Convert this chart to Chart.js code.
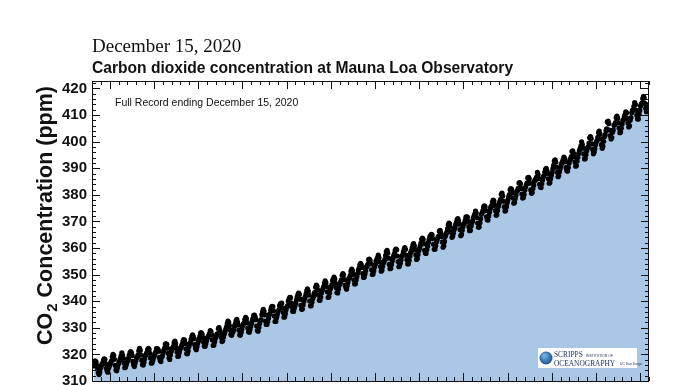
<!DOCTYPE html>
<html>
<head>
<meta charset="utf-8">
<script src="https://cdn.jsdelivr.net/npm/chart.js@4/dist/chart.umd.min.js"></script>
<style>
  body { margin: 0; background: #fff; }
  #chartBox { width: 696px; height: 385px; }
</style>
</head>
<body>
<div id="chartBox"><canvas id="chart" width="696" height="385"></canvas></div>
<script>
(function () {

    'use strict';

    // monthly mean CO2 (ppm) at Mauna Loa
    // first record is March 1958
    const co2_1950s = [315.70, 317.45, 317.51, 317.24, 315.86, 314.93, 313.20, 312.43, 313.33, 314.67,
        315.58, 316.49, 316.65, 317.72, 318.29, 318.15, 316.54, 314.80, 313.84, 313.33, 314.81, 315.58];
    const co2_1960s = [
        316.43, 316.98, 317.58, 319.03, 320.04, 319.59, 318.18, 315.90, 314.17, 313.83, 315.00, 316.19,
        316.89, 317.70, 318.54, 319.48, 320.58, 319.77, 318.57, 316.79, 314.99, 315.31, 316.10, 317.01,
        317.94, 318.55, 319.68, 320.57, 321.02, 320.62, 319.61, 317.40, 316.25, 315.42, 316.69, 317.70,
        318.74, 319.07, 319.86, 321.38, 322.25, 321.48, 319.74, 317.77, 316.21, 315.99, 317.07, 318.35,
        319.57, 320.01, 320.74, 321.84, 322.26, 321.89, 320.44, 318.69, 316.70, 316.87, 317.68, 318.71,
        319.44, 320.44, 320.89, 322.14, 322.17, 321.87, 321.21, 318.87, 317.81, 317.30, 318.87, 319.42,
        320.62, 321.59, 322.39, 323.87, 324.01, 323.75, 322.39, 320.37, 318.64, 318.10, 319.79, 321.08,
        322.07, 322.50, 323.04, 324.42, 325.00, 324.09, 322.54, 320.92, 319.25, 319.39, 320.73, 321.96,
        322.57, 323.15, 323.89, 325.02, 325.57, 325.36, 324.14, 322.11, 320.33, 320.25, 321.32, 322.89,
        324.00, 324.42, 325.63, 326.66, 327.38, 326.71, 325.88, 323.66, 322.38, 321.78, 322.86, 324.12];
    const co2_1970s = [
        325.06, 325.98, 326.93, 328.13, 328.08, 327.67, 326.34, 324.69, 323.10, 323.06, 324.01, 325.13,
        326.17, 326.68, 327.17, 327.79, 328.93, 328.57, 327.36, 325.43, 323.36, 323.56, 324.80, 326.01,
        326.77, 327.63, 327.75, 329.72, 330.07, 329.09, 328.04, 326.32, 324.84, 325.20, 326.50, 327.55,
        328.55, 329.56, 330.30, 331.50, 332.48, 332.07, 330.87, 329.31, 327.51, 327.18, 328.16, 328.64,
        329.35, 330.71, 331.48, 332.65, 333.19, 332.16, 331.07, 329.12, 327.32, 327.28, 328.30, 329.58,
        330.73, 331.46, 331.90, 333.17, 333.94, 333.45, 331.97, 329.95, 328.50, 328.34, 329.37, 330.58,
        331.59, 332.75, 333.52, 334.64, 334.77, 334.00, 333.06, 330.68, 328.95, 328.75, 330.15, 331.62,
        332.66, 333.13, 334.95, 336.13, 336.93, 336.17, 334.88, 332.56, 331.29, 331.27, 332.41, 333.60,
        334.95, 335.25, 336.66, 337.69, 338.03, 338.01, 336.41, 334.41, 332.37, 332.41, 333.75, 334.90,
        336.14, 336.69, 338.27, 338.96, 339.21, 339.26, 337.54, 335.75, 333.98, 334.19, 335.31, 336.81];
    const co2_1980s = [
        337.90, 338.34, 340.01, 340.93, 341.48, 341.33, 339.40, 337.70, 336.19, 336.15, 337.27, 338.32,
        339.29, 340.55, 341.61, 342.53, 343.03, 342.54, 340.78, 338.44, 336.95, 337.08, 338.58, 339.88,
        340.96, 341.73, 342.81, 343.97, 344.63, 343.79, 342.32, 340.09, 338.28, 338.29, 339.60, 340.90,
        341.68, 342.90, 343.33, 345.25, 346.03, 345.63, 344.19, 342.27, 340.35, 340.38, 341.59, 343.05,
        344.10, 344.79, 345.52, 346.84, 347.63, 346.97, 345.53, 343.55, 341.40, 341.67, 343.10, 344.70,
        345.21, 346.16, 347.74, 348.34, 349.06, 348.38, 346.72, 345.02, 343.27, 343.13, 344.49, 345.88,
        346.56, 347.28, 348.01, 349.77, 350.38, 349.93, 348.16, 346.08, 345.22, 344.51, 345.93, 347.22,
        348.52, 348.73, 349.73, 351.31, 352.09, 351.53, 350.11, 348.08, 346.52, 346.59, 347.96, 349.16,
        350.39, 351.64, 352.41, 353.69, 354.21, 353.72, 352.69, 350.40, 348.92, 349.13, 350.20, 351.41,
        352.91, 353.27, 353.96, 355.64, 355.86, 355.37, 353.99, 351.81, 350.05, 350.25, 351.49, 352.85];
    const co2_1990s = [
        353.80, 355.04, 355.73, 356.32, 357.32, 356.34, 354.84, 353.01, 351.31, 351.62, 353.07, 354.33,
        354.84, 355.73, 357.23, 358.66, 359.13, 358.13, 356.19, 353.85, 352.25, 352.35, 353.81, 355.12,
        356.25, 357.11, 357.86, 359.09, 359.59, 359.33, 357.01, 354.94, 352.96, 353.32, 354.32, 355.57,
        357.00, 357.31, 358.47, 359.27, 360.19, 359.52, 357.33, 355.64, 354.03, 354.12, 355.41, 356.91,
        358.24, 358.92, 359.99, 361.23, 361.65, 360.81, 359.38, 357.46, 355.73, 356.08, 357.53, 358.98,
        359.92, 360.86, 361.83, 363.30, 363.69, 363.19, 361.64, 359.12, 358.17, 357.99, 359.45, 360.68,
        362.07, 363.24, 364.17, 364.57, 365.13, 364.92, 363.55, 361.38, 359.54, 359.58, 360.89, 362.24,
        363.09, 364.03, 364.51, 366.35, 366.64, 365.59, 364.31, 362.25, 360.29, 360.82, 362.49, 364.38,
        365.26, 365.98, 367.24, 368.66, 369.42, 368.99, 367.82, 365.95, 364.02, 364.40, 365.52, 366.83,
        367.59, 368.71, 369.69, 370.58, 371.11, 370.30, 368.96, 366.93, 364.63, 365.13, 366.67, 368.01];
    const co2_2000s = [
        369.08, 369.40, 370.45, 371.59, 371.75, 371.62, 370.04, 368.04, 366.54, 366.63, 368.20, 369.43,
        370.17, 371.39, 372.00, 372.75, 373.88, 373.17, 371.48, 369.42, 367.83, 367.96, 369.55, 371.00,
        372.68, 373.23, 374.09, 375.37, 375.89, 375.49, 374.02, 371.72, 370.63, 370.52, 372.06, 373.49,
        374.82, 375.55, 375.95, 377.31, 378.02, 377.70, 376.05, 374.08, 372.33, 372.47, 374.13, 375.63,
        376.78, 377.49, 378.33, 380.14, 380.67, 379.56, 377.59, 375.51, 373.90, 374.07, 375.54, 377.06,
        378.12, 379.23, 380.13, 381.89, 382.35, 382.02, 380.74, 378.79, 376.88, 377.14, 378.67, 379.92,
        381.27, 381.71, 382.44, 384.41, 384.63, 384.15, 382.43, 380.32, 378.78, 379.03, 380.17, 381.85,
        382.94, 383.86, 384.49, 386.37, 386.54, 385.98, 384.35, 381.85, 380.58, 380.84, 382.38, 383.61,
        385.07, 385.72, 385.85, 386.71, 388.45, 387.64, 386.10, 383.95, 382.91, 382.73, 384.19, 385.56,
        386.80, 387.17, 388.55, 389.47, 389.96, 389.16, 387.98, 386.04, 384.36, 384.60, 386.07, 387.26];
    const co2_2010s = [
        388.42, 389.89, 391.07, 392.65, 393.19, 392.29, 390.38, 388.48, 386.81, 387.18, 388.64, 389.84,
        391.07, 391.88, 392.36, 393.26, 394.20, 393.72, 392.41, 390.23, 389.03, 388.95, 390.26, 391.90,
        393.06, 393.57, 394.37, 396.32, 396.58, 395.63, 394.32, 392.37, 390.79, 391.03, 392.72, 394.10,
        395.50, 396.60, 397.38, 398.34, 399.95, 398.98, 397.54, 395.38, 393.50, 393.59, 395.08, 396.57,
        397.68, 398.11, 399.48, 401.43, 401.90, 401.19, 399.14, 397.07, 395.44, 396.00, 397.26, 398.86,
        399.92, 400.43, 401.62, 403.47, 403.95, 402.89, 401.03, 398.88, 397.48, 398.34, 400.15, 401.85,
        402.53, 404.05, 404.84, 407.42, 407.70, 406.81, 404.39, 402.25, 401.03, 401.57, 403.53, 404.42,
        406.13, 406.42, 407.18, 409.00, 409.65, 408.84, 407.07, 405.07, 403.38, 403.64, 405.14, 406.64,
        407.96, 408.32, 409.41, 410.24, 411.24, 410.79, 408.71, 406.99, 405.51, 405.95, 408.02, 409.07,
        410.83, 411.75, 411.97, 413.32, 414.66, 413.92, 411.77, 409.95, 408.54, 408.53, 410.27, 411.76];
    const co2_2020 = [413.40, 414.11, 414.51, 416.21, 417.07, 416.39, 414.38, 412.55, 411.29, 411.28, 412.89, 413.95];

    const yTicks = [310, 320, 330, 340, 350, 360, 370, 380, 390, 400, 410, 420];
    const xRange = [1958, 2021];
    const yRange = [310, 422.8];

    const dateLine = "December 15, 2020";
    const titleLine = "Carbon dioxide concentration at Mauna Loa Observatory";
    const noteLine = "Full Record ending December 15, 2020";

    // decimal year of each monthly value
    function toPoints(startYear, startMonth, values) {
        return values.map((v, i) => {
            let m = startMonth + i;
            return { x: startYear + (m + 0.5) / 12, y: v };
        });
    }

    let points = [].concat(
        toPoints(1958, 2, co2_1950s),
        toPoints(1960, 0, co2_1960s),
        toPoints(1970, 0, co2_1970s),
        toPoints(1980, 0, co2_1980s),
        toPoints(1990, 0, co2_1990s),
        toPoints(2000, 0, co2_2000s),
        toPoints(2010, 0, co2_2010s),
        toPoints(2020, 0, co2_2020)
    );

    // box, inward ticks, note, y title and logo
    const frame = {
        id: 'frame',
        afterDraw(chart) {
            let ctx = chart.ctx;
            let a = chart.chartArea;
            let xs = chart.scales.x;
            let ys = chart.scales.y;
            ctx.save();
            ctx.strokeStyle = '#111';
            ctx.lineWidth = 1;
            ctx.strokeRect(a.left + 0.5, a.top + 0.5, a.right - a.left - 1, a.bottom - a.top);

            ctx.beginPath();
            for (let v = 310; v <= yRange[1]; v += 2) {
                let py = Math.round(ys.getPixelForValue(v)) + 0.5;
                let len = (v % 10 === 0) ? 8 : 4;
                ctx.moveTo(a.left, py); ctx.lineTo(a.left + len, py);
                ctx.moveTo(a.right, py); ctx.lineTo(a.right - len, py);
            }
            for (let yr = xRange[0]; yr <= xRange[1]; yr++) {
                let px = Math.round(xs.getPixelForValue(yr)) + 0.5;
                let len = (yr % 5 === 0) ? 8 : 4;
                ctx.moveTo(px, a.top); ctx.lineTo(px, a.top + len);
                ctx.moveTo(px, a.bottom); ctx.lineTo(px, a.bottom - len);
            }
            ctx.stroke();

            ctx.fillStyle = '#111';
            ctx.font = '10.5px "Liberation Sans", Arial, sans-serif';
            ctx.textBaseline = 'middle';
            ctx.fillText(noteLine, 115, 103);

            // rotated y title with subscript 2
            ctx.translate(46, 216);
            ctx.rotate(-Math.PI / 2);
            ctx.textBaseline = 'middle';
            let big = 'bold 21.5px "Liberation Sans", Arial, sans-serif';
            let small = 'bold 15px "Liberation Sans", Arial, sans-serif';
            ctx.font = big;
            let w1 = ctx.measureText('CO').width;
            let w3 = ctx.measureText(' Concentration (ppm)').width;
            ctx.font = small;
            let w2 = ctx.measureText('2').width;
            let x0 = -(w1 + w2 + w3) / 2;
            ctx.font = big;
            ctx.fillText('CO', x0, 0);
            ctx.font = small;
            ctx.fillText('2', x0 + w1 + 1, 7);
            ctx.font = big;
            ctx.fillText(' Concentration (ppm)', x0 + w1 + w2 + 1, 0);
            ctx.restore();

            // Scripps logo
            ctx.save();
            ctx.fillStyle = '#fff';
            ctx.fillRect(538, 348, 99, 20);
            let g = ctx.createRadialGradient(544, 355, 1, 546, 358, 7);
            g.addColorStop(0, '#6fb4e8');
            g.addColorStop(1, '#1c4f8c');
            ctx.fillStyle = g;
            ctx.beginPath();
            ctx.arc(546, 358, 6.5, 0, Math.PI * 2);
            ctx.fill();
            ctx.fillStyle = '#1d2f5c';
            ctx.textBaseline = 'alphabetic';
            ctx.font = '7.4px "Liberation Serif", serif';
            ctx.fillText('SCRIPPS', 554, 357);
            ctx.fillText('OCEANOGRAPHY', 554, 365.5);
            ctx.font = '3.4px "Liberation Sans", sans-serif';
            ctx.fillText('INSTITUTION OF', 586, 356.5);
            ctx.fillText('UC San Diego', 620, 365);
            ctx.restore();
        }
    };

    let config = {
        type: 'line',
        data: {
            datasets: [{
                label: 'CO2',
                data: points,
                showLine: true,
                borderWidth: 0,
                borderColor: 'rgba(0,0,0,0)',
                backgroundColor: '#aac8e6',
                fill: 'start',
                tension: 0,
                pointRadius: 2.6,
                pointBorderWidth: 0,
                pointBackgroundColor: '#000'
            }]
        },
        options: {
            responsive: false,
            animation: false,
            layout: { padding: { top: 0, left: 0, right: 47, bottom: 4 } },
            plugins: {
                legend: { display: false },
                tooltip: { enabled: false },
                title: {
                    display: true,
                    text: dateLine,
                    align: 'start',
                    fullSize: false,
                    color: '#111',
                    font: { family: '"Liberation Serif", "Times New Roman", serif', size: 19, weight: 'normal' },
                    padding: { top: 36, bottom: 0 }
                },
                subtitle: {
                    display: true,
                    text: titleLine,
                    align: 'start',
                    fullSize: false,
                    color: '#111',
                    font: { family: '"Liberation Sans", Arial, sans-serif', size: 15.6, weight: 'bold' },
                    padding: { top: 0.5, bottom: 3 }
                }
            },
            scales: {
                x: {
                    type: 'linear',
                    display: false,
                    min: xRange[0],
                    max: xRange[1]
                },
                y: {
                    type: 'linear',
                    min: yRange[0],
                    max: yRange[1],
                    border: { display: false },
                    grid: { display: false, drawTicks: false },
                    ticks: {
                        color: '#111',
                        padding: 5,
                        font: { family: '"Liberation Sans", Arial, sans-serif', size: 15, weight: 'bold' }
                    },
                    afterBuildTicks(scale) {
                        scale.ticks = yTicks.map(v => ({ value: v }));
                    },
                    afterFit(scale) {
                        scale.width = 92;
                        scale.paddingTop = 0;
                        scale.paddingBottom = 0;
                    }
                }
            }
        },
        plugins: [frame]
    };

    new Chart(document.getElementById('chart'), config);

})();
</script>
</body>
</html>
